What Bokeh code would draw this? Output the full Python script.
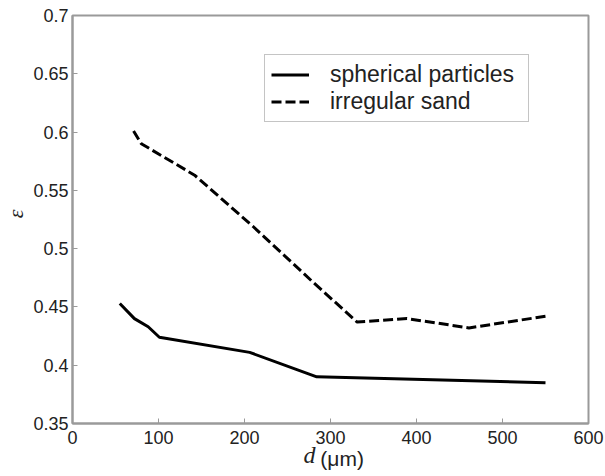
from bokeh.plotting import figure
from bokeh.models import Range1d, FixedTicker, Legend, LegendItem, LinearAxis
from bokeh.embed import file_html
from bokeh.resources import INLINE

# ---- data ----
sphere_d = [55, 72, 88, 101, 206, 284, 550]
sphere_eps = [0.453, 0.440, 0.433, 0.424, 0.411, 0.390, 0.385]

sand_d = [71, 80, 142, 210, 280, 331, 389, 461, 550]
sand_eps = [0.601, 0.590, 0.563, 0.519, 0.471, 0.437, 0.440, 0.432, 0.442]

x_ticks = [0, 100, 200, 300, 400, 500, 600]
y_ticks = [0.35, 0.4, 0.45, 0.5, 0.55, 0.6, 0.65, 0.7]
y_tick_labels = ["0.35", "0.4", "0.45", "0.5", "0.55", "0.6", "0.65", "0.7"]

series_names = ["spherical particles", "irregular sand"]
x_title_var = "d"
x_title_unit = "(μm)"
y_title = "ε"

NB = "\u00a0"
AX = "#9a9a9a"
TXT = "#222222"

p = figure(width=605, height=476, output_backend="svg", toolbar_location=None,
           x_range=Range1d(0, 600), y_range=Range1d(0.35, 0.7),
           min_border_left=71, min_border_right=17, min_border_top=15, min_border_bottom=53)
p.background_fill_color = "white"
p.border_fill_color = "white"
p.outline_line_color = AX
p.outline_line_width = 2
p.grid.visible = False

for ax in (p.xaxis, p.yaxis):
    ax.axis_line_color = AX
    ax.axis_line_width = 2
    ax.major_tick_line_color = AX
    ax.major_tick_line_width = 1
    ax.major_tick_in = 5
    ax.major_tick_out = 0
    ax.minor_tick_line_color = None
    ax.major_label_text_font = "Liberation Sans"
    ax.major_label_text_font_size = "18px"
    ax.major_label_text_color = TXT

p.xaxis.major_label_standoff = 7
p.yaxis.major_label_standoff = 4
p.xaxis.ticker = FixedTicker(ticks=x_ticks)
p.yaxis.ticker = FixedTicker(ticks=y_ticks)
p.yaxis.major_label_overrides = {v: s for v, s in zip(y_ticks, y_tick_labels)}

# y title
p.yaxis.axis_label = NB * 2 + y_title
p.yaxis.axis_label_text_font = "Liberation Serif"
p.yaxis.axis_label_text_font_style = "italic"
p.yaxis.axis_label_text_font_size = "22px"
p.yaxis.axis_label_text_color = TXT
p.yaxis.axis_label_standoff = 2

# x title: unit on the main axis, italic variable on a second (invisible) axis
p.xaxis.axis_label = NB * 4 + x_title_unit
p.xaxis.axis_label_text_font = "Liberation Sans"
p.xaxis.axis_label_text_font_style = "normal"
p.xaxis.axis_label_text_font_size = "21px"
p.xaxis.axis_label_text_color = TXT
p.xaxis.axis_label_standoff = 0

ax2 = LinearAxis(ticker=FixedTicker(ticks=[]), axis_line_color=None,
                 major_tick_line_color=None, minor_tick_line_color=None,
                 axis_label=x_title_var + NB * 7,
                 axis_label_text_font="Liberation Serif",
                 axis_label_text_font_style="italic",
                 axis_label_text_font_size="24px",
                 axis_label_text_color=TXT,
                 axis_label_standoff=-31)
p.add_layout(ax2, "below")

r1 = p.line(sphere_d, sphere_eps, line_color="black", line_width=3)
r2 = p.line(sand_d, sand_eps, line_color="black", line_width=3, line_dash="10 4")

legend = Legend(items=[LegendItem(label=series_names[0], renderers=[r1]),
                       LegendItem(label=series_names[1], renderers=[r2])],
                location=(192, 301), orientation="vertical",
                padding=6, spacing=0, margin=0,
                glyph_width=38, glyph_height=17, label_height=17,
                label_width=192, label_standoff=21,
                label_text_font="Liberation Sans", label_text_font_size="23px",
                label_text_color=TXT,
                border_line_color="#8a8a8a", border_line_width=1,
                background_fill_color="white", background_fill_alpha=1)
p.add_layout(legend, "center")

open("out.html", "w").write(file_html(p, INLINE))
